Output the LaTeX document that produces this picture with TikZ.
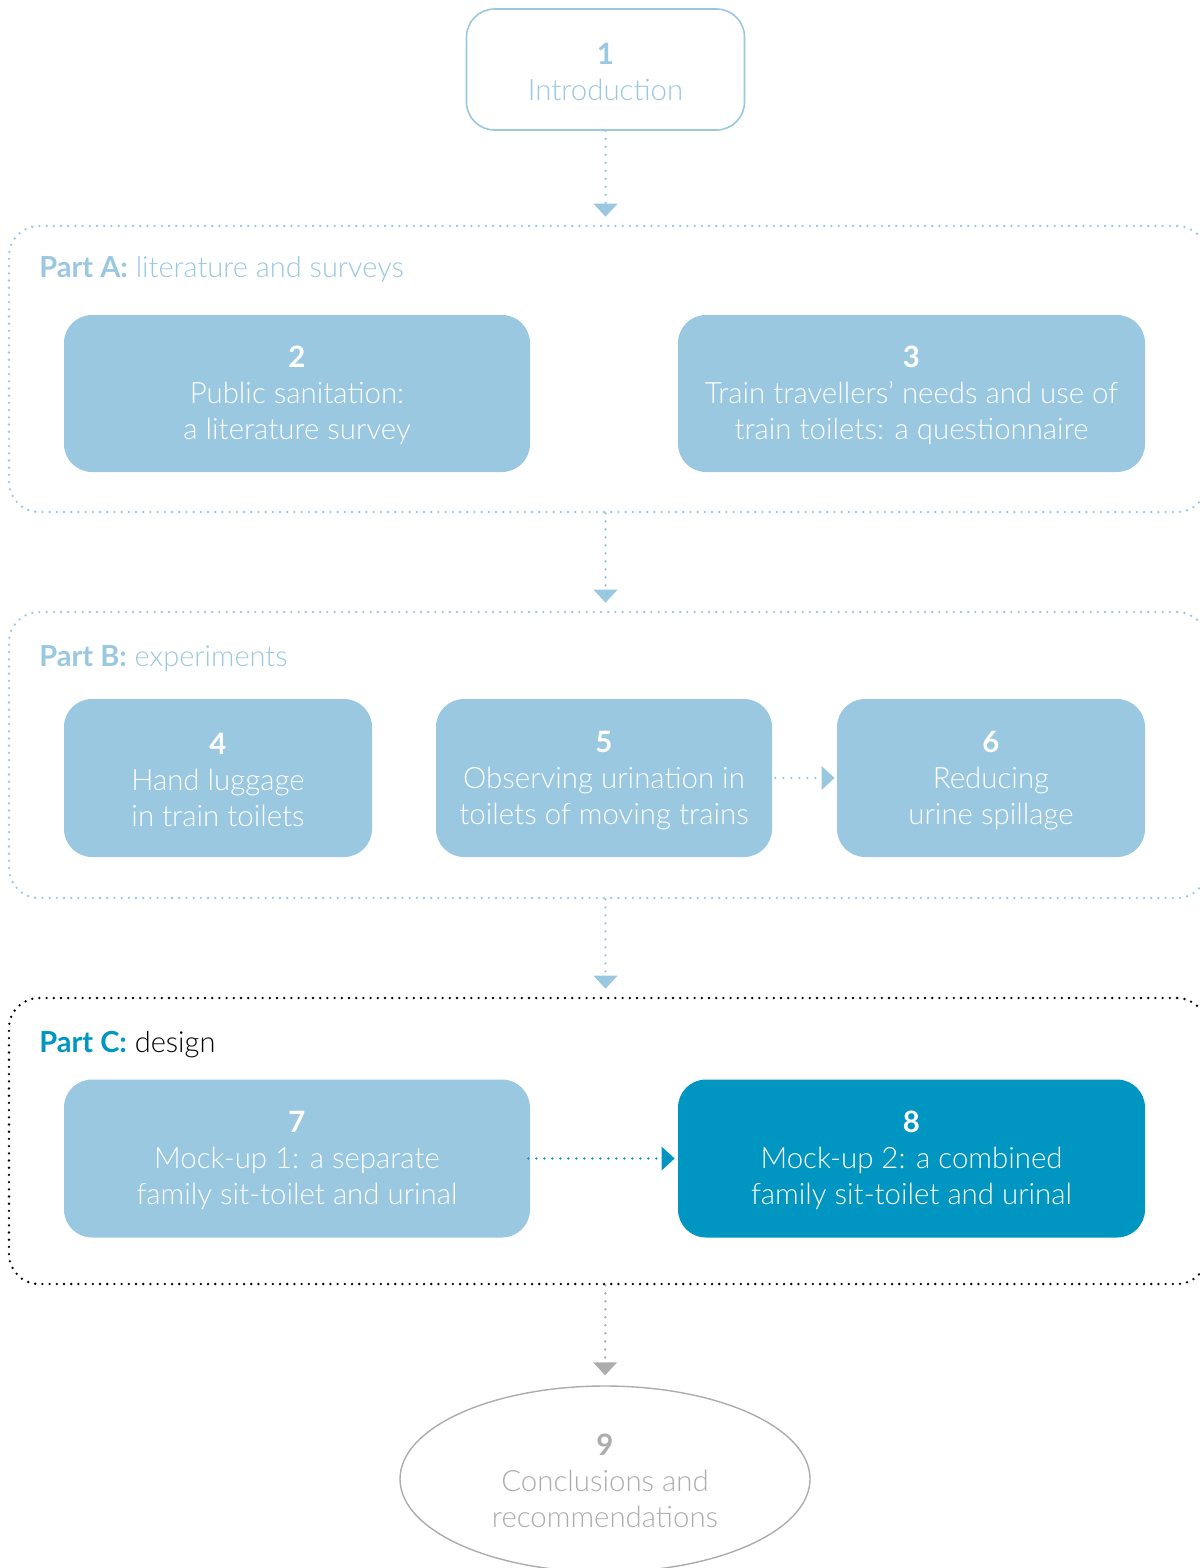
\documentclass[tikz,border=0pt]{standalone}
\usepackage{fontspec}
\setmainfont{Lato}[UprightFont=* Light, BoldFont=* Bold]
\usetikzlibrary{arrows.meta, shapes.geometric}

\definecolor{paleblue}{RGB}{154,200,225}
\definecolor{deepblue}{RGB}{0,150,193}
\definecolor{stonegray}{RGB}{172,172,172}

% chapter number, with a bit of headroom above it
\newcommand{\chapno}[1]{\rule{0pt}{13pt}\textbf{#1}}

\tikzset{
  chapbox/.style={rectangle, rounded corners=14pt, fill=paleblue, text=white,
    align=center, inner sep=0pt, font=\fontsize{14.7}{18}\selectfont},
  partframe/.style={rectangle, rounded corners=15pt, draw=paleblue, line width=1.3pt,
    dash pattern=on 0pt off 3.6pt, line cap=round, minimum width=599pt, minimum height=143pt},
  partlabel/.style={anchor=base west, inner sep=0pt, text=paleblue, font=\fontsize{14.5}{18}\selectfont},
  flow/.style={paleblue, line width=1.3pt, dash pattern=on 0pt off 4pt, line cap=round,
    -{Triangle[width=12pt,length=6.5pt,fill=paleblue,line width=0pt]}}
}

\begin{document}
\begin{tikzpicture}[x=0.5pt, y=-0.5pt]
  \useasboundingbox (0,0) rectangle (1199,1568);

  % Chapter 1
  \node[chapbox, fill=white, draw=paleblue, line width=0.8pt, text=paleblue,
    minimum width=139pt, minimum height=60.5pt] (intro) at (605.5,69.5)
    {\chapno{1}\\Introduction};

  % Part A
  \node[partframe] (partA) at (608,369) {};
  \node[partlabel] (labelA) at (39,277) {\textbf{Part A:} literature and surveys};
  \node[chapbox, minimum width=233pt, minimum height=78.5pt] (sanit) at (297,393.5)
    {\chapno{2}\\Public sanitation:\\a literature survey};
  \node[chapbox, minimum width=233.5pt, minimum height=78.5pt] (quest) at (911.5,393.5)
    {\chapno{3}\\Train travellers’ needs and use of\\train toilets: a questionnaire};

  % Part B
  \node[partframe] (partB) at (608,755) {};
  \node[partlabel] (labelB) at (39,666) {\textbf{Part B:} experiments};
  \node[chapbox, minimum width=154pt, minimum height=79pt] (luggage) at (218,778)
    {\chapno{4}\\Hand luggage\\in train toilets};
  \node[chapbox, minimum width=168pt, minimum height=79pt] (urination) at (604,778)
    {\chapno{5}\\Observing urination in\\toilets of moving trains};
  \node[chapbox, minimum width=154pt, minimum height=79pt] (spillage) at (991,778)
    {\chapno{6}\\Reducing\\urine spillage};

  % Part C
  \node[partframe, draw=black] (partC) at (608,1141) {};
  \node[partlabel, text=black] (labelC) at (39,1052) {\textcolor{deepblue}{\textbf{Part C:}} design};
  \node[chapbox, minimum width=233pt, minimum height=79pt] (mockone) at (297,1158.5)
    {\chapno{7}\\Mock-up 1: a separate\\family sit-toilet and urinal};
  \node[chapbox, fill=deepblue, minimum width=233.5pt, minimum height=79pt] (mocktwo) at (911.5,1158.5)
    {\chapno{8}\\Mock-up 2: a combined\\family sit-toilet and urinal};

  % Chapter 9
  \node[ellipse, draw=stonegray, line width=0.7pt, text=stonegray, align=center,
    inner sep=0pt, minimum width=205pt, minimum height=93pt,
    font=\fontsize{14.7}{18}\selectfont] (concl) at (605,1479)
    {\chapno{9}\\Conclusions and\\recommendations};

  % Arrows
  \draw[flow, shorten >=4pt] (intro.south) -- (intro.south |- partA.north);
  \draw[flow, shorten >=4pt] (intro.south |- partA.south) -- (intro.south |- partB.north);
  \draw[flow, shorten >=4pt] (intro.south |- partB.south) -- (intro.south |- partC.north);
  \draw[flow, stonegray, -{Triangle[width=12pt,length=6.5pt,fill=stonegray,line width=0pt]},
    shorten >=5pt] (intro.south |- partC.south) -- (concl.north);
  \draw[flow, shorten <=1.5pt, shorten >=1pt] (urination) -- (spillage);
  \draw[flow, deepblue, -{Triangle[width=12pt,length=6.5pt,fill=deepblue,line width=0pt]},
    shorten <=-1pt, shorten >=1.5pt] (mockone) -- (mocktwo);
\end{tikzpicture}
\end{document}
